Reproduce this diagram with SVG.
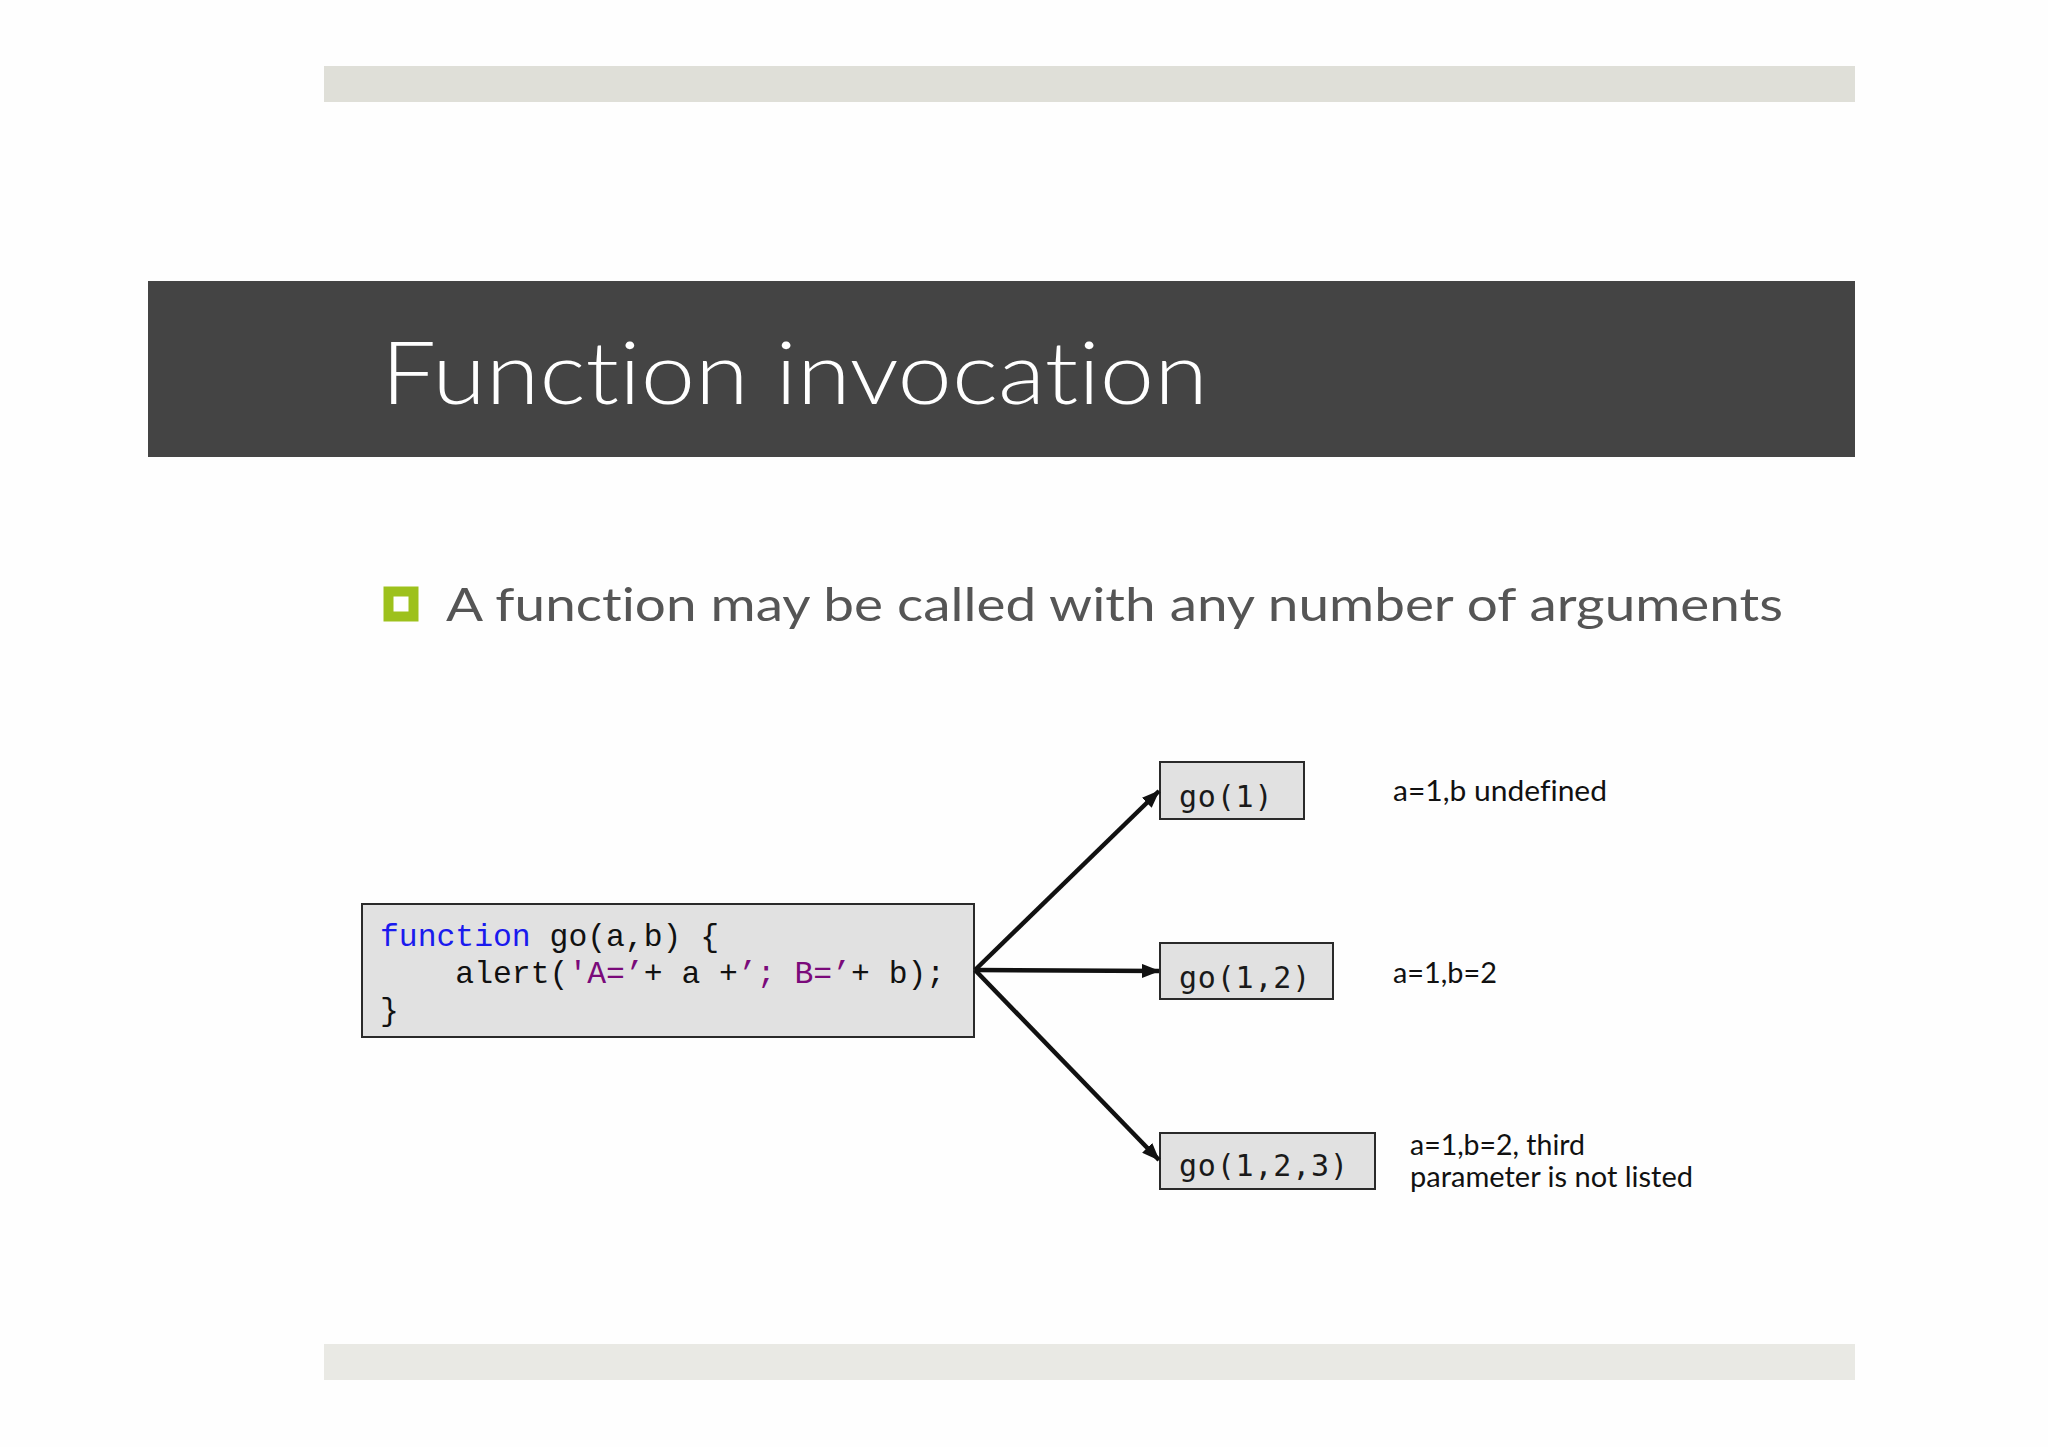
<svg xmlns="http://www.w3.org/2000/svg" width="2048" height="1447" viewBox="0 0 2048 1447">
<style>
text{font-variant-ligatures:none}
.box{fill:#e1e1e1;stroke:#2a2a2a;stroke-width:2}
.code{font-family:"Liberation Mono","Courier New",monospace;font-size:31.4px;fill:#111}
.kw{fill:#1a1aee}
.str{fill:#7a0a7a}
.call{font-family:"DejaVu Sans Mono","Liberation Mono",monospace;font-size:30px;fill:#1a1a1a;letter-spacing:0.8px}
.note{font-family:"Lato","DejaVu Sans",sans-serif;font-size:28px;fill:#111}
.conn{stroke:#111;stroke-width:4.5;fill:none;marker-end:url(#arrow)}
</style>
<defs>
<marker id="arrow" markerUnits="userSpaceOnUse" markerWidth="18" markerHeight="14" refX="17" refY="7" orient="auto">
<path d="M0,0 L18,7 L0,14 z" fill="#111"/>
</marker>
</defs>
<rect width="2048" height="1447" fill="#fefefe"/>
<rect x="324" y="66" width="1531" height="36" fill="#dfdfd8"/>
<rect x="148" y="281" width="1707" height="176" fill="#444444"/>
<text x="381" y="404" font-family="Lato, 'DejaVu Sans', sans-serif" font-weight="300" font-size="86" fill="#ffffff" textLength="827" lengthAdjust="spacingAndGlyphs">Function invocation</text>
<rect x="388.5" y="591.5" width="25" height="25" fill="#ffffff" stroke="#9dc11c" stroke-width="10"/>
<text x="446" y="621" font-family="Lato, 'DejaVu Sans', sans-serif" font-size="46" fill="#555555" textLength="1337" lengthAdjust="spacingAndGlyphs">A function may be called with any number of arguments</text>
<rect x="324" y="1344" width="1531" height="36" fill="#e9e9e4"/>
<g id="code-box">
<rect class="box" x="362" y="904" width="612" height="133"/>
<text class="code" x="380" y="946" xml:space="preserve"><tspan class="kw">function</tspan> go(a,b) {</text>
<text class="code" x="380" y="983" xml:space="preserve">    alert(<tspan class="str">'A=’</tspan>+ a +<tspan class="str">’; B=’</tspan>+ b);</text>
<text class="code" x="380" y="1020">}</text>
</g>
<g id="call1">
<rect class="box" x="1160" y="762" width="144" height="57"/>
<text class="call" x="1179" y="807">go(1)</text>
</g>
<g id="call2">
<rect class="box" x="1160" y="943" width="173" height="56"/>
<text class="call" x="1179" y="988">go(1,2)</text>
</g>
<g id="call3">
<rect class="box" x="1160" y="1133" width="215" height="56"/>
<text class="call" x="1179" y="1176">go(1,2,3)</text>
</g>
<g id="notes">
<text class="note" x="1393" y="801" textLength="214" lengthAdjust="spacingAndGlyphs">a=1,b undefined</text>
<text class="note" x="1393" y="983" textLength="104" lengthAdjust="spacingAndGlyphs">a=1,b=2</text>
<text class="note" x="1410" y="1155" textLength="175" lengthAdjust="spacingAndGlyphs">a=1,b=2, third</text>
<text class="note" x="1410" y="1187" textLength="283" lengthAdjust="spacingAndGlyphs">parameter is not listed</text>
</g>
<g id="connectors">
<line class="conn" x1="975" y1="970" x2="1159" y2="791"/>
<line class="conn" x1="975" y1="970" x2="1159" y2="971"/>
<line class="conn" x1="975" y1="970" x2="1159" y2="1160"/>
</g>
</svg>
